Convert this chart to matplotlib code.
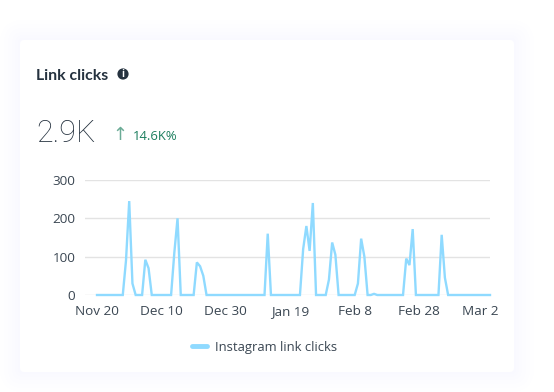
import matplotlib
matplotlib.use("Agg")
import matplotlib.pyplot as plt
from matplotlib.patches import FancyBboxPatch, Circle

plt.rcParams['font.family'] = ['Open Sans', 'DejaVu Sans']

title = "Link clicks"
big_value = "2.9K"
change = "14.6K%"
series_name = "Instagram link clicks"
y_ticks = [0, 100, 200, 300]
tick_labels = ["Nov 20", "Dec 10", "Dec 30", "Jan 19", "Feb 8", "Feb 28", "Mar 2"]
tick_index = [0, 20, 40, 60, 80, 100, 119]
clicks = [0, 0, 0, 0, 0, 0, 0, 0, 0, 90, 245, 30, 0, 0, 0, 92, 70, 0, 0, 0,
          0, 0, 0, 0, 110, 200, 0, 0, 0, 0, 0, 85, 75, 50, 0, 0, 0, 0, 0, 0,
          0, 0, 0, 0, 0, 0, 0, 0, 0, 0, 0, 0, 0, 160, 0, 0, 0, 0, 0, 0,
          0, 0, 0, 0, 120, 180, 115, 240, 0, 0, 0, 0, 40, 137, 105, 0, 0, 0, 0, 0,
          0, 30, 147, 100, 0, 0, 3, 0, 0, 0, 0, 0, 0, 0, 0, 0, 95, 78, 172, 0,
          0, 0, 0, 0, 0, 0, 0, 157, 45, 0, 0, 0, 0, 0, 0, 0, 0, 0, 0, 0,
          0, 0, 0]

W, H = 554, 392
fig = plt.figure(figsize=(W / 100, H / 100), dpi=100, facecolor='white')

bg = fig.add_axes([0, 0, 1, 1], zorder=0)
bg.set_xlim(0, W)
bg.set_ylim(H, 0)
bg.axis('off')
for pad, alpha in [(20, .008), (16, .01), (12, .012), (8, .014), (5, .014), (2, .014)]:
    bg.add_patch(FancyBboxPatch((20 - pad, 40 - pad), 494 + 2 * pad, 332 + 2 * pad,
                                boxstyle=f"round,pad=0,rounding_size={pad + 4}",
                                fc='#c8c8ff', ec='none', alpha=alpha))
bg.add_patch(FancyBboxPatch((20, 40), 494, 332, boxstyle="round,pad=0,rounding_size=4",
                            fc='white', ec='none'))

dark = '#25323f'
green = '#1c7f5e'
bg.text(36, 75.5, title, fontsize=11.3, fontweight='bold', color=dark, va='center', ha='left',
        family=['Lato', 'DejaVu Sans'])
bg.add_patch(Circle((123, 74), 5.6, fc=dark, ec='none'))
bg.text(123, 74, "i", fontsize=7, fontweight='bold', color='white', ha='center', va='center')
bg.text(36, 134, big_value, fontsize=22, fontweight='light', color=dark, va='center', ha='left',
        family=['Roboto', 'DejaVu Sans'])
bg.text(120, 135, "↑", fontsize=13, color=green, ha='center', va='center', family='DejaVu Sans', alpha=.65)
bg.text(133, 136, change, fontsize=9.4, color=green, ha='left', va='center')

ax = fig.add_axes([85 / W, 1 - 295 / H, 405 / W, 115 / H], zorder=1)
ax.patch.set_alpha(0)
x = list(range(len(clicks)))
ax.plot(x, clicks, color='#8fdaff', lw=1.7, clip_on=False, solid_joinstyle='miter', zorder=3,
        label=series_name)
ax.set_xlim(-12 / 3.22, 122)
ax.set_ylim(0, 300)
ax.set_yticks(y_ticks)
ax.set_xticks(tick_index)
ax.set_xticklabels(tick_labels)
ax.tick_params(length=0, labelsize=9.7, labelcolor='#3a4652', pad=7)
ax.tick_params(axis='x', pad=7)
ax.grid(axis='y', color='#e3e3e3', lw=1)
ax.grid(axis='x', visible=False)
ax.set_axisbelow(True)
for s in ax.spines.values():
    s.set_visible(False)

handles, labels = ax.get_legend_handles_labels()
leg = fig.legend(handles, labels, loc='center', bbox_to_anchor=(264.5 / W, 1 - 347 / H), frameon=False,
                 fontsize=9.4, labelcolor='#3a4652', handlelength=1.15, handletextpad=.6)
leg.get_lines()[0].set_linewidth(3.5)
leg.get_lines()[0].set_solid_capstyle('round')

fig.savefig('out.png', dpi=100, facecolor='white')
